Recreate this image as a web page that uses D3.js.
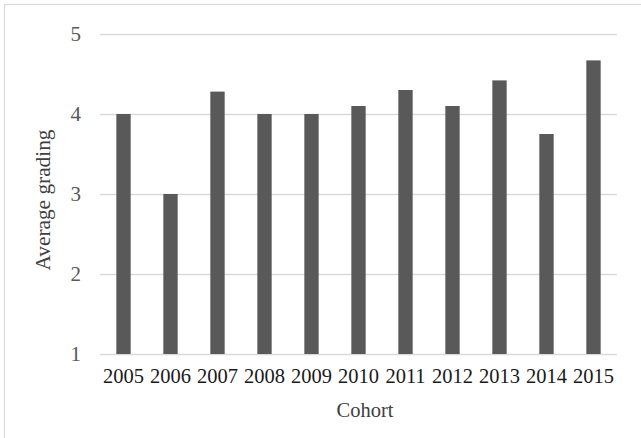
<!DOCTYPE html>
<html>
<head>
<meta charset="utf-8">
<script src="https://cdn.jsdelivr.net/npm/d3@7"></script>
<style>
  html, body { margin: 0; padding: 0; background: #fff; overflow: hidden; }
  svg { display: block; }
</style>
</head>
<body>
<script>
const categories = ["2005","2006","2007","2008","2009","2010","2011","2012","2013","2014","2015"];
const values = [4.0, 3.0, 4.28, 4.0, 4.0, 4.1, 4.3, 4.1, 4.42, 3.75, 4.67];
const yTicks = [1, 2, 3, 4, 5];
const xTitle = "Cohort";
const yTitle = "Average grading";

const W = 641, H = 438;
const margin = {left: 100, right: 24, top: 34, bottom: 84};
const font = "'Liberation Serif', 'Times New Roman', serif";

const svg = d3.select("body").append("svg").attr("width", W).attr("height", H);
svg.append("rect").attr("x", 0).attr("y", 0).attr("width", W).attr("height", H).attr("fill", "#fff");
// outer chart border (right and bottom edges fall outside the picture)
svg.append("rect").attr("x", 4.5).attr("y", 4.5).attr("width", 700).attr("height", 500)
  .attr("fill", "none").attr("stroke", "#d9d9d9").attr("stroke-width", 1.2);

const x = d3.scaleBand().domain(categories).range([margin.left, W - margin.right]).paddingInner(0.695).paddingOuter(0.3475);
const y = d3.scaleLinear().domain([1, 5]).range([H - margin.bottom, margin.top]);

// gridlines + y tick labels
const yAxis = d3.axisLeft(y).tickValues(yTicks).tickSize(-(W - margin.right - margin.left)).tickPadding(19).tickFormat(d3.format("d"));
const gy = svg.append("g").attr("transform", `translate(${margin.left},0)`).call(yAxis);
gy.select(".domain").remove();
gy.selectAll(".tick line").attr("stroke", "#d9d9d9").attr("stroke-width", 1.5);
gy.selectAll(".tick text").attr("fill", "#595959").style("font-family", font).style("font-size", "21px");

// bars
svg.append("g").selectAll("rect").data(values).join("rect")
  .attr("x", (d, i) => x(categories[i]))
  .attr("width", x.bandwidth())
  .attr("y", d => y(d))
  .attr("height", d => y(1) - y(d))
  .attr("fill", "#595959");

// x axis labels
const xAxis = d3.axisBottom(x).tickSize(0).tickPadding(14);
const gx = svg.append("g").attr("transform", `translate(0,${y(1)})`).call(xAxis);
gx.select(".domain").remove();
gx.selectAll(".tick text").attr("fill", "#1a1a1a").style("font-family", font).style("font-size", "20.5px");

// titles
svg.append("text").attr("x", 365).attr("y", 416.5).attr("text-anchor", "middle")
  .attr("fill", "#404040").style("font-family", font).style("font-size", "20.5px").text(xTitle);
svg.append("text").attr("transform", "translate(50,200) rotate(-90)").attr("text-anchor", "middle")
  .attr("fill", "#404040").style("font-family", font).style("font-size", "21.3px").text(yTitle);
</script>
</body>
</html>
